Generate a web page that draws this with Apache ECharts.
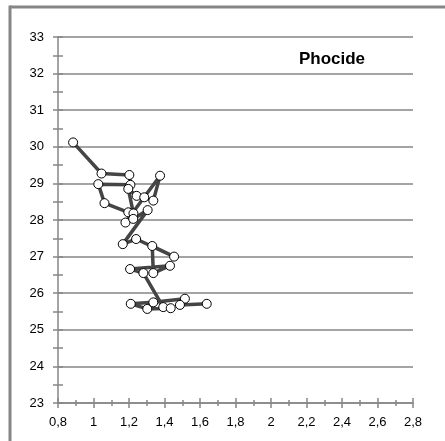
<!DOCTYPE html>
<html><head><meta charset="utf-8">
<script src="https://cdn.jsdelivr.net/npm/echarts@6/dist/echarts.min.js"></script>
<style>html,body{margin:0;padding:0;background:#fff}#c{width:445px;height:441px}</style>
</head><body><div id="c"></div>
<script>
const title = 'Phocide';
const xValues = [0.885,1.045,1.202,1.208,1.027,1.062,1.196,1.225,1.196,1.243,1.286,1.337,1.375,1.18,1.224,1.305,1.165,1.24,1.454,1.331,1.337,1.431,1.206,1.281,1.393,1.435,1.303,1.21,1.337,1.515,1.487,1.638];
const yValues = [30.12,29.27,29.23,28.96,28.98,28.46,28.21,28.18,28.85,28.66,28.62,28.53,29.21,27.93,28.03,28.27,27.34,27.48,27.0,27.29,26.55,26.75,26.66,26.55,25.62,25.59,25.57,25.71,25.75,25.85,25.68,25.71];
const xTicks = {min:0.8, max:2.8, interval:0.2};
const yTicks = {min:23, max:33, interval:1};

const pts = xValues.map((x,i)=>[x,yValues[i]]);
const axisColor = '#868686';
const fmt = v => String(Math.round(v*10)/10).replace('.', ',');
const grid = {left:58, right:32, top:37, bottom:38};
const chart = echarts.init(document.getElementById('c'), null, {renderer:'canvas'});
const tickStyle = {color:axisColor, width:1.5};
chart.setOption({
  animation:false,
  backgroundColor:'#fff',
  grid: grid,
  title:{text:title, left:327, top:46, textAlign:'center',
    textStyle:{fontFamily:'Liberation Sans', fontWeight:'bold', fontSize:17, color:'#000'}},
  xAxis:[{
    type:'value', min:xTicks.min, max:xTicks.max, interval:xTicks.interval,
    axisLine:{lineStyle:{color:axisColor, width:1.5}},
    axisTick:{show:true, length:5, lineStyle:tickStyle},
    minorTick:{show:true, splitNumber:2, length:3, lineStyle:tickStyle},
    splitLine:{show:false},
    axisLabel:{formatter:fmt, margin:13, fontFamily:'Liberation Sans', fontSize:13, color:'#000'}
  },{
    type:'value', min:xTicks.min, max:xTicks.max, interval:xTicks.interval, position:'bottom',
    axisLine:{show:false},
    axisTick:{show:true, inside:true, length:5, lineStyle:tickStyle},
    minorTick:{show:true, splitNumber:2, length:3, lineStyle:tickStyle},
    splitLine:{show:false}, axisLabel:{show:false}
  }],
  yAxis:[{
    type:'value', min:yTicks.min, max:yTicks.max, interval:yTicks.interval,
    axisLine:{show:true, lineStyle:{color:axisColor, width:1.5}},
    axisTick:{show:true, length:5, lineStyle:tickStyle},
    minorTick:{show:true, splitNumber:2, length:5, lineStyle:tickStyle},
    splitLine:{show:true, lineStyle:{color:axisColor, width:1.5}},
    axisLabel:{margin:14, fontFamily:'Liberation Sans', fontSize:13, color:'#000'}
  },{
    type:'value', min:yTicks.min, max:yTicks.max, interval:yTicks.interval, position:'left',
    axisLine:{show:false},
    axisTick:{show:true, inside:true, length:5, lineStyle:tickStyle},
    minorTick:{show:true, splitNumber:2, length:5, lineStyle:tickStyle},
    splitLine:{show:false}, axisLabel:{show:false}
  }],
  graphic:[
    {type:'rect', shape:{x:10, y:5.5, width:440, height:3}, style:{fill:axisColor}, silent:true},
    {type:'rect', shape:{x:8.5, y:5.5, width:3, height:440}, style:{fill:axisColor}, silent:true}
  ],
  series:[{
    type:'line', data:pts, xAxisIndex:0, yAxisIndex:0,
    symbol:'circle', symbolSize:9, showAllSymbol:true,
    lineStyle:{color:'#454545', width:3.5},
    itemStyle:{color:'#fff', borderColor:'#000', borderWidth:1}
  }]
});
</script></body></html>
